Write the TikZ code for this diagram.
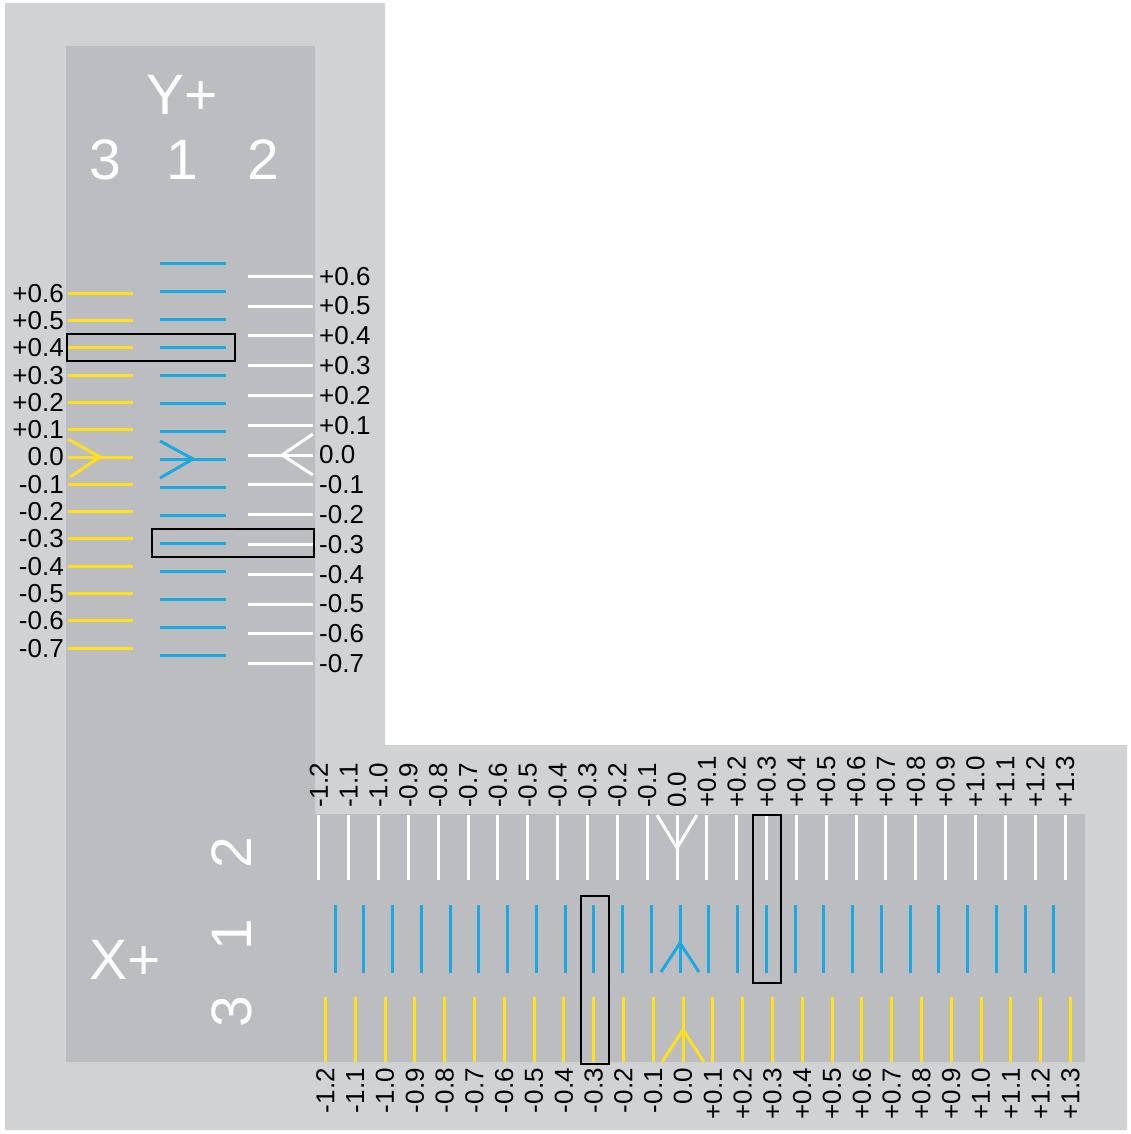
\documentclass[tikz,border=0pt]{standalone}
\usepackage{fontspec}
\setmainfont{Liberation Sans}
\begin{document}
\begin{tikzpicture}[x=1pt,y=-1pt,
  tick/.style={line width=3pt},
  ywl/.style={tick,color=yel},
  bll/.style={tick,color=blu},
  whl/.style={tick,color=white},
  lab/.style={font=\fontsize{26}{26}\selectfont,inner sep=1pt},
  big/.style={font=\fontsize{57}{57}\selectfont,text=white,inner sep=0pt},
  frame/.style={draw=black,line width=2.4pt}]
\definecolor{yel}{HTML}{FFE01B}
\definecolor{blu}{HTML}{1CA8E0}
\definecolor{lgr}{HTML}{D1D2D4}
\definecolor{dgr}{HTML}{BCBDC0}
\useasboundingbox (0,0) rectangle (1131,1134);
\fill[white] (0,0) rectangle (1131,1134);
\fill[lgr] (5,3) -- (385,3) -- (385,745) -- (1127,745) -- (1127,1130) -- (5,1130) -- cycle;
\fill[dgr] (66,46) -- (315,46) -- (315,814) -- (1085,814) -- (1085,1062) -- (66,1062) -- cycle;
% vertical section
\node[big] (yp) at (182,95) {Y+};
\node[big] (v3) at (105,160) {3};
\node[big] (v1) at (182,160) {1};
\node[big] (v2) at (263,160) {2};
\foreach \k/\t in {6/+0.6,5/+0.5,4/+0.4,3/+0.3,2/+0.2,1/+0.1,0/0.0,-1/-0.1,-2/-0.2,-3/-0.3,-4/-0.4,-5/-0.5,-6/-0.6,-7/-0.7}{
  \pgfmathsetmacro\yy{457-27.3*\k}
  \draw[ywl] (68,\yy) -- (133,\yy);
  \node[lab,anchor=east] (yl\k) at (65,\yy) {\t};
  \pgfmathsetmacro\wy{455-29.8*\k}
  \draw[whl] (248,\wy) -- (313,\wy);
  \node[lab,anchor=west] (wl\k) at (318,\wy) {\t};
}
\foreach \k in {-7,...,7}{
  \pgfmathsetmacro\yy{459-28*\k}
  \draw[bll] (160,\yy) -- (226,\yy);
}
\draw[ywl] (68,439) -- (100,457) -- (70,477);
\draw[bll] (160,441) -- (193,459) -- (160,478);
\draw[whl] (313,434) -- (282,455) -- (313,475);
\node[frame,minimum width=168pt,minimum height=27pt,anchor=north west,inner sep=0pt] (f1) at (66,333) {};
\node[frame,minimum width=162pt,minimum height=28pt,anchor=north west,inner sep=0pt] (f2) at (151,528) {};
% horizontal section
\node[big] (xp) at (125,960) {X+};
\node[big,rotate=90] (h2) at (232,853) {2};
\node[big,rotate=90] (h1) at (232,935) {1};
\node[big,rotate=90] (h3) at (232,1012) {3};
\foreach \k/\t in {-12/-1.2,-11/-1.1,-10/-1.0,-9/-0.9,-8/-0.8,-7/-0.7,-6/-0.6,-5/-0.5,-4/-0.4,-3/-0.3,-2/-0.2,-1/-0.1,0/0.0,1/+0.1,2/+0.2,3/+0.3,4/+0.4,5/+0.5,6/+0.6,7/+0.7,8/+0.8,9/+0.9,10/+1.0,11/+1.1,12/+1.2,13/+1.3}{
  \pgfmathsetmacro\wx{677+29.85*\k}
  \draw[whl] (\wx,815) -- (\wx,880);
  \node[lab,rotate=90,anchor=west] (tl\k) at (\wx,809) {\t};
  \pgfmathsetmacro\bx{680+28.75*\k}
  \draw[bll] (\bx,905) -- (\bx,973);
  \pgfmathsetmacro\yx{683+29.8*\k}
  \draw[ywl] (\yx,997) -- (\yx,1062);
  \node[lab,rotate=90,anchor=east] (bl\k) at (\yx,1067) {\t};
}
\draw[whl] (657,815) -- (677,848) -- (697,815);
\draw[bll] (661,972) -- (680,943) -- (699,972);
\draw[ywl] (662,1062) -- (683,1030) -- (704,1062);
\node[frame,minimum width=28pt,minimum height=168pt,anchor=north west,inner sep=0pt] (f3) at (580,895) {};
\node[frame,minimum width=28pt,minimum height=168pt,anchor=north west,inner sep=0pt] (f4) at (752,814) {};
\end{tikzpicture}
\end{document}
